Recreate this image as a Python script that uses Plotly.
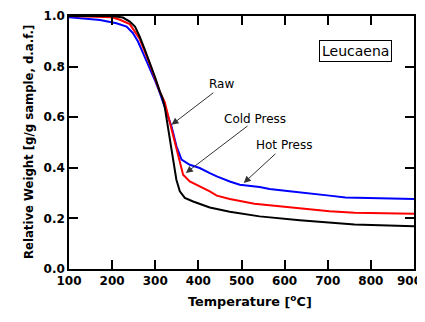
import plotly.graph_objects as go

# ---- data ----
temp_raw = [100, 200, 225, 241, 253, 264, 276, 287.5, 299, 310.7, 316, 322, 328, 334, 341.5, 349, 357, 368.6, 387.8, 426.5, 472.8, 542, 635, 704, 762, 900]
weight_raw = [1.0, 1.0, 0.994, 0.978, 0.958, 0.918, 0.866, 0.815, 0.761, 0.701, 0.68, 0.64, 0.58, 0.511, 0.432, 0.353, 0.307, 0.281, 0.267, 0.243, 0.226, 0.208, 0.193, 0.185, 0.176, 0.169]

temp_cold = [100, 200, 218, 241, 264, 287.5, 310.7, 322, 334, 345.4, 357, 364.6, 380, 403, 426.5, 442.7, 472.8, 530, 611.7, 635, 704, 762, 900]
weight_cold = [1.0, 0.995, 0.985, 0.968, 0.909, 0.81, 0.70, 0.66, 0.578, 0.499, 0.42, 0.373, 0.346, 0.327, 0.307, 0.290, 0.277, 0.258, 0.244, 0.240, 0.228, 0.222, 0.218]

temp_hot = [100, 172, 210, 233.5, 248, 260, 271.5, 287.5, 299, 310.7, 322, 337.8, 349.4, 361, 380, 403, 426.5, 442.7, 472.8, 496, 542, 565, 611.7, 635, 704, 741, 900]
weight_hot = [0.995, 0.984, 0.971, 0.958, 0.933, 0.899, 0.854, 0.795, 0.747, 0.696, 0.64, 0.563, 0.484, 0.432, 0.412, 0.399, 0.379, 0.366, 0.346, 0.333, 0.324, 0.316, 0.307, 0.302, 0.29, 0.283, 0.277]

x_ticks = [100, 200, 300, 400, 500, 600, 700, 800, 900]
x_tick_labels = ["100", "200", "300", "400", "500", "600", "700", "800", ""]
last_x_label = "900"   # drawn separately so it stays inside the window edge
y_ticks = [0.0, 0.2, 0.4, 0.6, 0.8, 1.0]

fig = go.Figure()
fig.add_trace(go.Scatter(x=temp_hot, y=weight_hot, mode="lines", name="Hot Press",
                         line=dict(color="#0000ff", width=2)))
fig.add_trace(go.Scatter(x=temp_cold, y=weight_cold, mode="lines", name="Cold Press",
                         line=dict(color="#ff0000", width=2)))
fig.add_trace(go.Scatter(x=temp_raw, y=weight_raw, mode="lines", name="Raw",
                         line=dict(color="#000000", width=2)))

tick_font = dict(family="DejaVu Sans", size=12, color="black", weight="bold")
axis_common = dict(showgrid=False, zeroline=False, showline=True, linecolor="black",
                   linewidth=1.5, ticks="inside", ticklen=9, tickwidth=1.5,
                   tickcolor="black", mirror="ticks", automargin=False,
                   ticklabeloverflow="allow", tickfont=tick_font)

fig.update_xaxes(range=[100, 900], tickvals=x_ticks, ticktext=x_tick_labels, **axis_common)
fig.update_yaxes(range=[0, 1], tickvals=y_ticks, ticktext=[f"{v:.1f}" for v in y_ticks], **axis_common)

label_font = dict(family="DejaVu Sans", size=12, color="black")
annotations = [
    dict(xref="x", yref="paper", x=x_ticks[-1], y=-0.0493, xanchor="right", yanchor="middle",
         xshift=10, text=last_x_label, showarrow=False, font=tick_font),
    dict(xref="paper", yref="paper", x=0.526, y=-0.1665, text="<b>Temperature [<sup>o</sup>C]</b>",
         showarrow=False, font=dict(family="DejaVu Sans", size=12.8, color="black")),
    dict(xref="paper", yref="paper", x=-0.1427, y=0.501, text="<b>Relative Weight [g/g sample, d.a.f.]</b>",
         textangle=-90, showarrow=False, font=dict(family="DejaVu Sans", size=11.7, color="black")),
    dict(x=764.5, y=0.863, text="Leucaena", showarrow=False, bordercolor="black", borderwidth=1,
         borderpad=2, bgcolor="white", font=dict(family="DejaVu Sans", size=14, color="black")),
    dict(x=454.2, y=0.732, text="Raw", showarrow=False, font=label_font),
    dict(x=530.6, y=0.5925, text="Cold Press", showarrow=False, font=label_font),
    dict(x=597.8, y=0.49, text="Hot Press", showarrow=False, font=label_font),
]
arrow_style = dict(text="", showarrow=True, axref="x", ayref="y", arrowhead=2,
                   arrowsize=1.4, arrowwidth=1, arrowcolor="#333333", standoff=0)
for tip_x, tip_y, tail_x, tail_y in [(337.8, 0.570, 438, 0.701),
                                      (370.9, 0.3795, 517.5, 0.570),
                                      (505.2, 0.34, 582.3, 0.461)]:
    annotations.append(dict(x=tip_x, y=tip_y, ax=tail_x, ay=tail_y, **arrow_style))

# page body adds an 8px offset, so the figure is sized to fit inside the window
fig.update_layout(width=417, height=314,
                  margin=dict(l=61, r=10.5, t=8, b=52.5, autoexpand=False),
                  plot_bgcolor="white", paper_bgcolor="white", showlegend=False,
                  annotations=annotations)

fig.write_html("out.html")
